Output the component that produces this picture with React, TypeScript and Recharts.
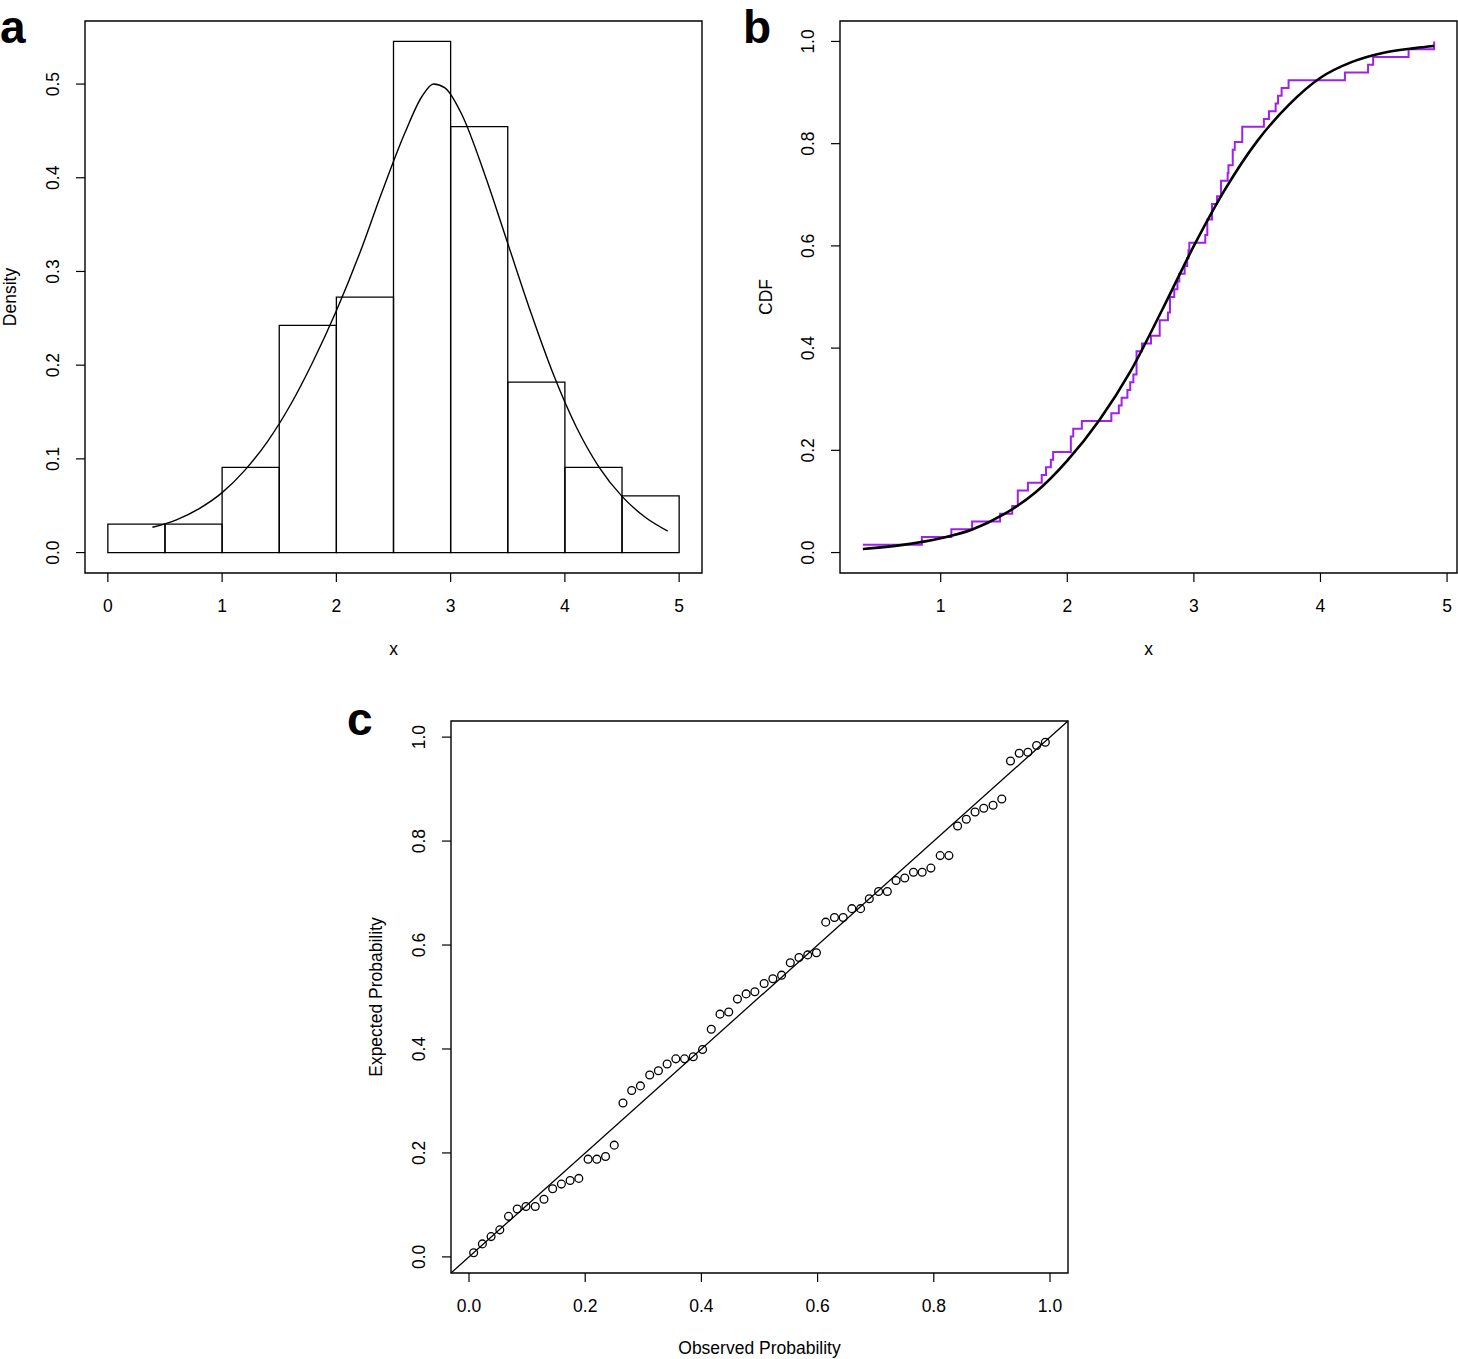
import React from 'react'
import {
  ComposedChart,
  Line,
  Scatter,
  XAxis,
  YAxis,
  ReferenceArea,
  ReferenceLine,
} from 'recharts'

// Panel a: histogram (bins of width 0.5) and fitted density curve
const binStarts = [0, 0.5, 1, 1.5, 2, 2.5, 3, 3.5, 4, 4.5]
const binWidth = 0.5
const binDensity = [0.0303, 0.0303, 0.0909, 0.2424, 0.2727, 0.5455, 0.4545, 0.1818, 0.0909, 0.0606]

const densityX = [0.39, 0.6, 0.8, 1.0, 1.2, 1.4, 1.6, 1.8, 2.0, 2.2, 2.4, 2.6, 2.75, 2.85, 2.95, 3.1, 3.3, 3.5, 3.7, 3.9, 4.1, 4.3, 4.5, 4.7, 4.9]
const densityY = [0.027, 0.035, 0.047, 0.064, 0.088, 0.119, 0.158, 0.205, 0.258, 0.318, 0.385, 0.448, 0.487, 0.5, 0.496, 0.467, 0.403, 0.33, 0.257, 0.19, 0.134, 0.091, 0.06, 0.038, 0.023]

// Panel b: sorted sample (empirical CDF) and fitted CDF
const sample = [
  0.385, 0.851, 1.084, 1.248, 1.469, 1.565, 1.609, 1.609, 1.689, 1.798,
  1.832, 1.87, 1.888, 2.028, 2.028, 2.047, 2.115, 2.348, 2.407, 2.429,
  2.475, 2.497, 2.522, 2.547, 2.547, 2.547, 2.59, 2.661, 2.73, 2.73,
  2.795, 2.811, 2.811, 2.845, 2.87, 2.885, 2.927, 2.947, 2.957, 2.964,
  3.09, 3.106, 3.106, 3.143, 3.143, 3.183, 3.214, 3.214, 3.267, 3.273,
  3.307, 3.307, 3.323, 3.382, 3.382, 3.553, 3.593, 3.646, 3.665, 3.693,
  3.748, 4.193, 4.376, 4.416, 4.696, 4.898,
]

const cdfX = [0.385, 0.7, 1.0, 1.25, 1.5, 1.75, 2.0, 2.25, 2.5, 2.75, 3.0, 3.25, 3.5, 3.75, 4.0, 4.25, 4.5, 4.75, 4.898]
const cdfY = [0.007, 0.015, 0.028, 0.045, 0.075, 0.118, 0.18, 0.258, 0.355, 0.475, 0.6, 0.712, 0.805, 0.876, 0.929, 0.96, 0.978, 0.987, 0.991]

// Panel c: P-P plot
const observedProb = [
  0.008, 0.023, 0.038, 0.053, 0.068, 0.083, 0.098, 0.114, 0.129, 0.144,
  0.159, 0.174, 0.189, 0.205, 0.22, 0.235, 0.25, 0.265, 0.28, 0.295,
  0.311, 0.326, 0.341, 0.356, 0.371, 0.386, 0.402, 0.417, 0.432, 0.447,
  0.462, 0.477, 0.492, 0.508, 0.523, 0.538, 0.553, 0.568, 0.583, 0.598,
  0.614, 0.629, 0.644, 0.659, 0.674, 0.689, 0.705, 0.72, 0.735, 0.75,
  0.765, 0.78, 0.795, 0.811, 0.826, 0.841, 0.856, 0.871, 0.886, 0.902,
  0.917, 0.932, 0.947, 0.962, 0.977, 0.992,
]
const expectedProb = [
  0.008, 0.025, 0.039, 0.052, 0.078, 0.092, 0.097, 0.097, 0.111, 0.131,
  0.14, 0.147, 0.151, 0.188, 0.188, 0.193, 0.215, 0.296, 0.32, 0.329,
  0.35, 0.358, 0.371, 0.381, 0.381, 0.385, 0.399, 0.438, 0.467, 0.471,
  0.496, 0.506, 0.51, 0.526, 0.535, 0.542, 0.566, 0.576, 0.581, 0.585,
  0.644, 0.653, 0.653, 0.67, 0.67, 0.689, 0.703, 0.703, 0.724, 0.729,
  0.74, 0.74, 0.748, 0.772, 0.772, 0.829, 0.842, 0.856, 0.863, 0.869,
  0.881, 0.954, 0.969, 0.971, 0.984, 0.99,
]

const FONT = '"Liberation Sans", Arial, Helvetica, sans-serif'
const FS = 17.5
const PLOT_W = 617
const PLOT_H = 552
const AXIS_W = 85
const AXIS_H = 80
const TOP = 21

const densityData = densityX.map((x, i) => ({ x, y: densityY[i] }))
const ecdfData = sample.map((x, i) => ({ x, y: (i + 1) / sample.length }))
const cdfData = cdfX.map((x, i) => ({ x, y: cdfY[i] }))
const ppData = observedProb.map((x, i) => ({ x, y: expectedProb[i] }))

const rotatedTick = (fmt: (v: number) => string) => (props: any) => {
  const { x, y, payload } = props
  return (
    <text
      x={x}
      y={y}
      transform={`rotate(-90 ${x} ${y})`}
      textAnchor="middle"
      fontSize={FS}
      fill="#000"
    >
      {fmt(payload.value)}
    </text>
  )
}

const fix1 = (v: number) => v.toFixed(1)
const int0 = (v: number) => String(v)

type PanelProps = {
  left: number
  top: number
  rightPad: number
  xDomain: [number, number]
  yDomain: [number, number]
  xTicks: number[]
  yTicks: number[]
  xFmt: (v: number) => string
  yFmt: (v: number) => string
  children: React.ReactNode
}

function Panel({ left, top, rightPad, xDomain, yDomain, xTicks, yTicks, xFmt, yFmt, children }: PanelProps) {
  return (
    <div style={{ position: 'absolute', left, top }}>
      <ComposedChart
        width={AXIS_W + PLOT_W + rightPad}
        height={TOP + PLOT_H + AXIS_H}
        margin={{ top: TOP, right: rightPad, bottom: 0, left: 0 }}
      >
        <XAxis
          type="number"
          dataKey="x"
          domain={xDomain}
          ticks={xTicks}
          allowDataOverflow
          height={AXIS_H}
          axisLine={false}
          tickLine={{ stroke: '#000', strokeWidth: 1.2 }}
          tickSize={9}
          tickMargin={18}
          tick={{ fontSize: FS, fill: '#000' }}
          tickFormatter={xFmt}
        />
        <YAxis
          type="number"
          dataKey="y"
          domain={yDomain}
          ticks={yTicks}
          allowDataOverflow
          width={AXIS_W}
          axisLine={false}
          tickLine={{ stroke: '#000', strokeWidth: 1.2 }}
          tickSize={9}
          tickMargin={17}
          tick={rotatedTick(yFmt)}
        />
        <ReferenceArea
          x1={xDomain[0]}
          x2={xDomain[1]}
          y1={yDomain[0]}
          y2={yDomain[1]}
          fill="none"
          stroke="#000"
          strokeWidth={1.4}
          ifOverflow="visible"
        />
        {children}
      </ComposedChart>
    </div>
  )
}

export default function App() {
  return (
    <div
      style={{
        position: 'absolute',
        left: 0,
        top: 0,
        width: 1458,
        height: 1359,
        overflow: 'hidden',
        background: '#fff',
        fontFamily: FONT,
      }}
    >
      {/* a: histogram with density */}
      <Panel
        left={0}
        top={0}
        rightPad={18}
        xDomain={[-0.2, 5.2]}
        yDomain={[-0.0218, 0.5673]}
        xTicks={[0, 1, 2, 3, 4, 5]}
        yTicks={[0, 0.1, 0.2, 0.3, 0.4, 0.5]}
        xFmt={int0}
        yFmt={fix1}
      >
        {binStarts.map((b, i) => (
          <ReferenceArea
            key={`bin-${i}`}
            x1={b}
            x2={b + binWidth}
            y1={0}
            y2={binDensity[i]}
            fill="none"
            stroke="#000"
            strokeWidth={1.3}
            ifOverflow="visible"
          />
        ))}
        <Line
          data={densityData}
          dataKey="y"
          type="monotone"
          stroke="#000"
          strokeWidth={1.4}
          dot={false}
          isAnimationActive={false}
        />
      </Panel>

      {/* b: empirical vs fitted CDF */}
      <Panel
        left={755}
        top={0}
        rightPad={1}
        xDomain={[0.2045, 5.0785]}
        yDomain={[-0.04, 1.04]}
        xTicks={[1, 2, 3, 4, 5]}
        yTicks={[0, 0.2, 0.4, 0.6, 0.8, 1]}
        xFmt={int0}
        yFmt={fix1}
      >
        <Line
          data={ecdfData}
          dataKey="y"
          type="stepAfter"
          stroke="#A020F0"
          strokeWidth={2}
          dot={false}
          isAnimationActive={false}
        />
        <Line
          data={cdfData}
          dataKey="y"
          type="monotone"
          stroke="#000"
          strokeWidth={2.6}
          dot={false}
          isAnimationActive={false}
        />
      </Panel>

      {/* c: P-P plot */}
      <Panel
        left={366}
        top={700}
        rightPad={20}
        xDomain={[-0.031, 1.031]}
        yDomain={[-0.031, 1.031]}
        xTicks={[0, 0.2, 0.4, 0.6, 0.8, 1]}
        yTicks={[0, 0.2, 0.4, 0.6, 0.8, 1]}
        xFmt={fix1}
        yFmt={fix1}
      >
        <ReferenceLine
          segment={[
            { x: -0.031, y: -0.031 },
            { x: 1.031, y: 1.031 },
          ]}
          stroke="#000"
          strokeWidth={1.3}
          ifOverflow="visible"
        />
        <Scatter
          data={ppData}
          dataKey="y"
          isAnimationActive={false}
          shape={(p: any) => (
            <circle cx={p.cx} cy={p.cy} r={3.9} fill="none" stroke="#000" strokeWidth={1.3} />
          )}
        />
      </Panel>

      {/* panel letters and axis titles */}
      <svg
        width={1458}
        height={1359}
        style={{ position: 'absolute', left: 0, top: 0, pointerEvents: 'none' }}
      >
        <g fontWeight="bold" fontSize={46} fill="#000">
          <text x={0} y={43}>a</text>
          <text x={743} y={43}>b</text>
          <text x={347} y={735}>c</text>
        </g>
        <g fontSize={FS} fill="#000" textAnchor="middle">
          <text x={393.5} y={655}>x</text>
          <text x={1148.5} y={655}>x</text>
          <text x={759.5} y={1354}>Observed Probability</text>
          <text x={16} y={297} transform="rotate(-90 16 297)">Density</text>
          <text x={772} y={297} transform="rotate(-90 772 297)">CDF</text>
          <text x={382} y={997} transform="rotate(-90 382 997)">Expected Probability</text>
        </g>
      </svg>
    </div>
  )
}
